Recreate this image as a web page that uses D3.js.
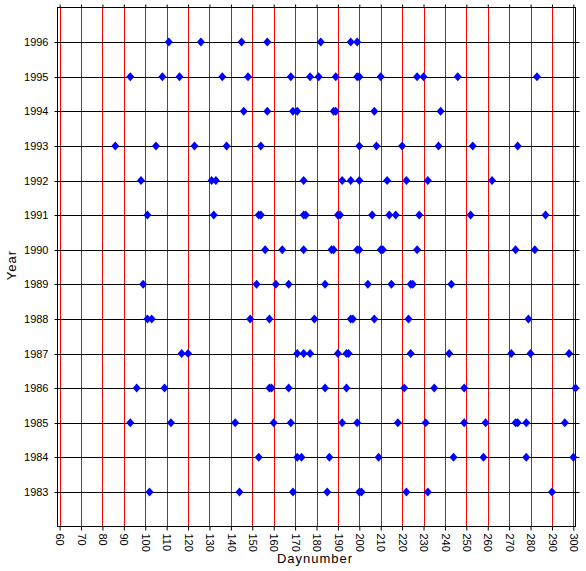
<!DOCTYPE html>
<html>
<head>
<meta charset="utf-8">
<script src="https://cdn.jsdelivr.net/npm/d3@7"></script>
<style>
  body { margin: 0; background: #fff; }
  text { font-family: "Liberation Sans", Arial, sans-serif; fill: #000; }
</style>
</head>
<body>
<script>
// day numbers per year
var years = [1983, 1984, 1985, 1986, 1987, 1988, 1989, 1990, 1991, 1992, 1993, 1994, 1995, 1996];
var days1983 = [102, 144, 169, 185, 200, 201, 222, 232, 290];
var days1984 = [153, 171, 173, 186, 209, 244, 258, 278, 300];
var days1985 = [93, 112, 142, 160, 168, 192, 199, 218, 231, 249, 259, 273, 274, 278, 296];
var days1986 = [96, 109, 158, 159, 167, 184, 194, 221, 235, 249, 301];
var days1987 = [117, 120, 171, 174, 177, 190, 194, 195, 224, 242, 271, 280, 298];
var days1988 = [101, 103, 149, 158, 179, 196, 197, 207, 223, 279];
var days1989 = [99, 152, 161, 167, 184, 204, 215, 224, 225, 243];
var days1990 = [156, 164, 174, 187, 188, 199, 200, 210, 211, 227, 273, 282];
var days1991 = [101, 132, 153, 154, 174, 175, 190, 191, 206, 214, 217, 228, 252, 287];
var days1992 = [98, 131, 133, 174, 192, 196, 200, 213, 222, 232, 262];
var days1993 = [86, 105, 123, 138, 154, 200, 208, 220, 237, 253, 274];
var days1994 = [146, 157, 169, 171, 188, 189, 207, 238];
var days1995 = [93, 108, 116, 136, 148, 168, 177, 181, 189, 199, 200, 210, 227, 230, 246, 283];
var days1996 = [111, 126, 145, 157, 182, 196, 199];
var dayTicks = d3.range(60, 301, 10);

var daysByYear = [days1983, days1984, days1985, days1986, days1987, days1988, days1989,
                  days1990, days1991, days1992, days1993, days1994, days1995, days1996];

var data = [];
years.forEach(function(yr, i) {
  daysByYear[i].forEach(function(d) { data.push({year: yr, day: d}); });
});

// plot frame (window.top is reserved, so use other names)
var frameLeft = 57.5, frameRight = 575.5, frameTop = 7.5, frameBottom = 526.5;

var x = d3.scaleLinear().domain([59, 301]).range([frameLeft, frameRight]);
var y = d3.scaleLinear().domain([1982, 1997]).range([frameBottom, frameTop]);

var svg = d3.select("body").append("svg")
  .attr("width", 586)
  .attr("height", 571);

// red vertical grid
svg.append("g")
  .selectAll("line")
  .data(dayTicks)
  .enter().append("line")
  .attr("x1", function(d) { return Math.round(x(d)) + 0.5; })
  .attr("x2", function(d) { return Math.round(x(d)) + 0.5; })
  .attr("y1", frameTop)
  .attr("y2", frameBottom)
  .attr("stroke", "#ff0000")
  .attr("stroke-width", 1);

// black horizontal year lines (stick out a little on both sides)
svg.append("g")
  .selectAll("line")
  .data(years)
  .enter().append("line")
  .attr("x1", frameLeft - 3)
  .attr("x2", frameRight + 4)
  .attr("y1", function(d) { return Math.round(y(d)) + 0.5; })
  .attr("y2", function(d) { return Math.round(y(d)) + 0.5; })
  .attr("stroke", "#000")
  .attr("stroke-width", 1);

// frame
svg.append("rect")
  .attr("x", frameLeft)
  .attr("y", frameTop)
  .attr("width", frameRight - frameLeft)
  .attr("height", frameBottom - frameTop)
  .attr("fill", "none")
  .attr("stroke", "#000")
  .attr("stroke-width", 1);

// bottom axis
var xAxis = svg.append("g")
  .attr("transform", "translate(0," + frameBottom + ")")
  .call(d3.axisBottom(x).tickValues(dayTicks).tickSize(4).tickSizeOuter(0));
xAxis.select(".domain").remove();
xAxis.selectAll("line").attr("stroke", "#000");
xAxis.selectAll("text")
  .attr("transform", "rotate(90)")
  .attr("x", 7)
  .attr("y", 0)
  .attr("dy", "0.35em")
  .attr("text-anchor", "start")
  .attr("fill", "#000")
  .style("font-size", "11px");

// top ticks, no labels
var xTop = svg.append("g")
  .attr("transform", "translate(0," + frameTop + ")")
  .call(d3.axisTop(x).tickValues(dayTicks).tickSize(3).tickSizeOuter(0).tickFormat(""));
xTop.select(".domain").remove();
xTop.selectAll("line").attr("stroke", "#000");

// left axis labels
var yAxis = svg.append("g")
  .attr("transform", "translate(" + frameLeft + ",0)")
  .call(d3.axisLeft(y).tickValues(years).tickSize(0).tickPadding(9).tickFormat(d3.format("d")));
yAxis.select(".domain").remove();
yAxis.selectAll("text")
  .attr("fill", "#000")
  .style("font-size", "11px");

// blue diamonds
svg.append("g")
  .selectAll("path")
  .data(data)
  .enter().append("path")
  .attr("transform", function(d) { return "translate(" + x(d.day) + "," + y(d.year) + ")"; })
  .attr("d", "M0,-4.5L4,0L0,4.5L-4,0Z")
  .attr("fill", "#0000ff");

// axis titles
svg.append("text")
  .attr("x", 315)
  .attr("y", 563)
  .attr("text-anchor", "middle")
  .style("font-size", "13px")
  .style("letter-spacing", "1px")
  .text("Daynumber");

svg.append("text")
  .attr("transform", "translate(16,265) rotate(-90)")
  .attr("text-anchor", "middle")
  .style("font-size", "13px")
  .style("letter-spacing", "1px")
  .text("Year");
</script>
</body>
</html>
